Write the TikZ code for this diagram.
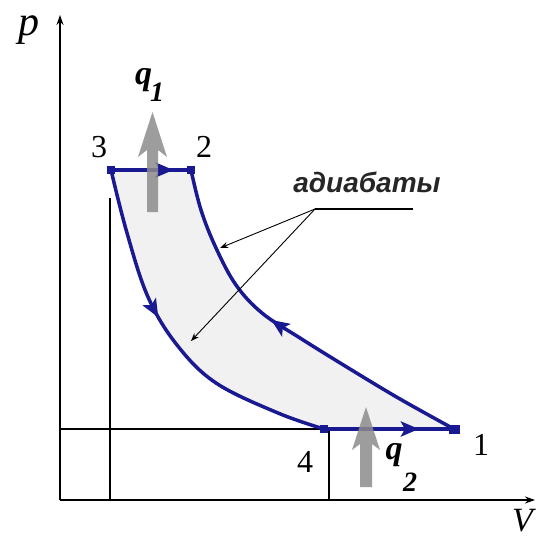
\documentclass[tikz,border=0pt]{standalone}
\usepackage{fontspec}
\setmainfont{Liberation Serif}
\newfontfamily\labsans{Liberation Sans}
\usetikzlibrary{arrows.meta,decorations.markings}
\definecolor{cblue}{RGB}{25,25,145}
\definecolor{hatch}{RGB}{140,140,140}
\begin{document}
\begin{tikzpicture}[x=1pt,y=-1pt,
  thinln/.style={black, line width=1.2pt},
  axisln/.style={black, line width=1.3pt, -{Stealth[length=10pt,width=7pt]}},
  cyc/.style={draw=cblue, color=cblue, line width=3.5pt, line join=round},
  bluetip/.style={postaction={decorate, decoration={markings, mark=at position #1 with {\arrow{Stealth[length=18pt,width=15pt,inset=4pt]}}}}},
  sq/.style={fill=cblue, minimum size=8pt, inner sep=0pt, draw=none},
  num/.style={font=\fontsize{32}{32}\selectfont, anchor=base, inner sep=0pt},
  qsym/.style={font=\bfseries\itshape\fontsize{34}{34}\selectfont, anchor=base, inner sep=0pt},
  qsub/.style={font=\bfseries\itshape\fontsize{28}{28}\selectfont, anchor=base, inner sep=0pt},
  leader/.style={black, line width=0.9pt, -{Stealth[length=8pt,width=6pt]}},
  heat/.style={fill=hatch, fill opacity=0.85, draw=none},
]
\useasboundingbox (0,0) rectangle (537,543);
\fill[white] (0,0) rectangle (537,543);

% key points
\coordinate (P3) at (111,170);
\coordinate (P2) at (191,170);
\coordinate (P1) at (454,429);
\coordinate (P4) at (324,429);
\coordinate (O) at (60,500);

% shaded cycle area
\fill[gray!11] plot[smooth, tension=0.6] coordinates {(P3) (127,233) (148,297) (177,345) (216,383) (278,413) (P4)}
  -- plot[smooth, tension=0.6] coordinates {(P1) (400,399) (350,369) (300,338) (262,313) (236,285) (216,248) (201,210) (P2)} -- cycle;

% thin construction lines
\draw[thinln] (60,429) -- (P4);
\draw[thinln] (329,429) -- (329,500);
\draw[thinln] (110,198) -- (110,500);

% axes
\draw[axisln] (O) -- (60,15);
\draw[axisln] (O) -- (535,500);

% cycle
\draw[cyc, bluetip=0.43] plot[smooth, tension=0.6] coordinates {(P3) (127,233) (148,297) (177,345) (216,383) (278,413) (P4)};
\draw[cyc, bluetip=0.55] plot[smooth, tension=0.6] coordinates {(P1) (400,399) (350,369) (300,338) (262,313) (236,285) (216,248) (201,210) (P2)};
\draw[cyc, bluetip=0.78] (P3) -- (P2);
\draw[cyc, bluetip=0.73] (P4) -- (P1);

% heat arrows
\fill[heat] (152.5,112) -- (167,157) -- (158,150) -- (158,212) -- (147,212) -- (147,150) -- (138,157) -- cycle;
\fill[heat] (366,407) -- (380,450) -- (372,444) -- (372,487) -- (360,487) -- (360,444) -- (352,450) -- cycle;

% point markers
\node[sq] (m3) at (P3) {};
\node[sq] (m2) at (P2) {};
\node[sq] (m4) at (P4) {};
\node[sq, minimum width=11pt, minimum height=9pt] (m1) at (P1) {};

% adiabat label and leaders
\node[font=\labsans\bfseries\itshape\fontsize{28}{28}\selectfont, text=black!85, anchor=base, inner sep=0pt] (adia) at (367,192) {адиабаты};
\coordinate (L0) at (315,209);
\coordinate (L1) at (413,209);
\coordinate (T1) at (220,248);
\coordinate (T2) at (191,341);
\draw[thinln] (L0) -- (L1);
\draw[leader] (L0) -- (T1);
\draw[leader] (L0) -- (T2);

% labels
\node[num] (n3) at (99,157) {3};
\node[num] (n2) at (204,157) {2};
\node[num] (n4) at (305,472) {4};
\node[num] (n1) at (481,455) {1};
\node[qsym] (q1) at (143.5,84.5) {q};
\node[qsub] (q1s) at (157,101) {1};
\node[qsym] (q2) at (394,459.5) {q};
\node[qsub] (q2s) at (410,491) {2};
\node[font=\itshape\fontsize{42}{42}\selectfont, anchor=base, inner sep=0pt] (plab) at (29,36) {p};
\node[font=\itshape\fontsize{34}{34}\selectfont, anchor=north west, inner sep=0pt] (vlab) at (512,509) {V};
\end{tikzpicture}
\end{document}
